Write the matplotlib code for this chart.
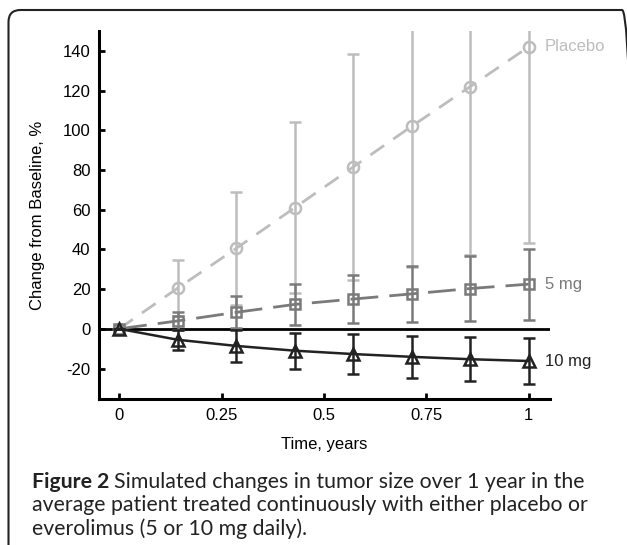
import numpy as np
import matplotlib.pyplot as plt
from matplotlib.patches import FancyBboxPatch
from matplotlib.transforms import IdentityTransform

# time points (years)
t = [0, 1/7, 2/7, 3/7, 4/7, 5/7, 6/7, 1]

placebo = [0, 20.5, 40.5, 61, 81.5, 102, 122, 142]
placebo_err = [0, 14, 28.5, 43, 57, 71, 85, 99]

mg5 = [0, 4, 8.3, 12.3, 15, 17.6, 20.3, 22.5]
mg5_err = [0, 4.7, 8, 10.2, 12, 14, 16.4, 17.8]

mg10 = [0, -5.5, -8.6, -11, -12.7, -14.1, -15.3, -16.2]
mg10_err = [0, 5, 8, 9, 10.2, 10.7, 11.2, 11.5]

xticks = [0, 0.25, 0.5, 0.75, 1]
xticklabels = ["0", "0.25", "0.5", "0.75", "1"]
yticks = [-20, 0, 20, 40, 60, 80, 100, 120, 140]

plt.rcParams['font.family'] = ['Liberation Sans', 'DejaVu Sans']
plt.rcParams['axes.unicode_minus'] = False

fig = plt.figure(figsize=(6.27, 5.45), dpi=100)
ax = fig.add_axes([0.1574, 0.2673, 0.7197, 0.6758])

c_pl = "#bdbdbd"
c_5 = "#7a7a7a"
c_10 = "#222222"
fs = 12

ax.axhline(0, color="black", lw=2, zorder=1)

ax.errorbar(t, placebo, yerr=placebo_err, color=c_pl, lw=2, dashes=(6, 4),
            marker="o", ms=8, mfc="none", mew=1.8, capsize=4, capthick=1.8,
            elinewidth=1.8, zorder=2)
ax.errorbar(t, mg5, yerr=mg5_err, color=c_5, lw=2, dashes=(10, 4),
            marker="s", ms=7.5, mfc="none", mew=1.8, capsize=4, capthick=1.8,
            elinewidth=1.8, zorder=3)
ax.errorbar(t, mg10, yerr=mg10_err, color=c_10, lw=1.8,
            marker="^", ms=9, mfc="none", mew=1.8, capsize=4, capthick=1.8,
            elinewidth=1.8, zorder=4)

ax.text(1.04, placebo[-1], "Placebo", color=c_pl, fontsize=fs, ha="left", va="center")
ax.text(1.04, mg5[-1], "5 mg", color=c_5, fontsize=fs, ha="left", va="center")
ax.text(1.04, mg10[-1], "10 mg", color=c_10, fontsize=fs, ha="left", va="center")

ax.set_xlim(-0.05, 1.052)
ax.set_ylim(-35.5, 150)
ax.set_xticks(xticks)
ax.set_xticklabels(xticklabels)
ax.set_yticks(yticks)
ax.tick_params(direction="in", length=4, width=2, labelsize=fs, pad=6)
for s in ["top", "right"]:
    ax.spines[s].set_visible(False)
for s in ["left", "bottom"]:
    ax.spines[s].set_linewidth(2.2)

ax.set_xlabel("Time, years", fontsize=fs)
ax.set_ylabel("Change from Baseline, %", fontsize=fs)
ax.xaxis.set_label_coords(0.5, -0.102)
ax.yaxis.set_label_coords(-0.119, 0.5)

# rounded frame around the figure (right and bottom edges fall off the image)
frame = FancyBboxPatch((8.5, -40), 625.5, 575,
                       boxstyle="round,pad=0,rounding_size=12",
                       transform=IdentityTransform(), fill=False,
                       ec="#222222", lw=1.5)
fig.patches.append(frame)

# caption
cap_font = ['Lato', 'DejaVu Sans']
cap_size = 15.3
x0 = 32 / 627
t1 = fig.text(x0, 1 - 481.5 / 545, "Figure 2", fontsize=cap_size, fontweight="bold",
              family=cap_font, va="center", color="#222222")
fig.canvas.draw()
bb = t1.get_window_extent()
fig.text((bb.x1 + 5) / 627, 1 - 481.5 / 545,
         "Simulated changes in tumor size over 1 year in the",
         fontsize=cap_size, family=cap_font, va="center", color="#222222")
fig.text(x0, 1 - 505 / 545,
         "average patient treated continuously with either placebo or",
         fontsize=cap_size, family=cap_font, va="center", color="#222222")
fig.text(x0, 1 - 528.5 / 545, "everolimus (5 or 10 mg daily).",
         fontsize=cap_size, family=cap_font, va="center", color="#222222")

fig.savefig("out.png", dpi=100)
